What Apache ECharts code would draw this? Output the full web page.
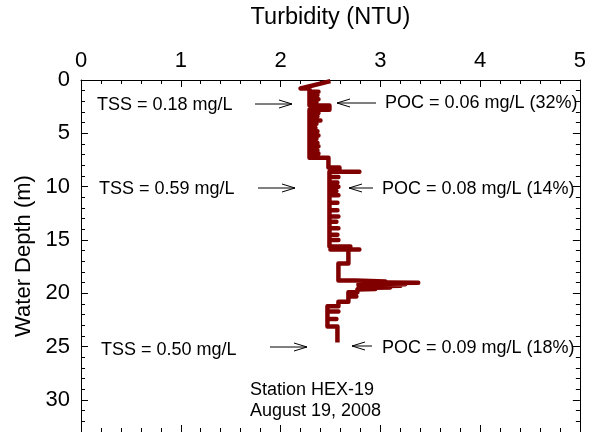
<!DOCTYPE html>
<html>
<head>
<meta charset="utf-8">
<script src="https://cdn.jsdelivr.net/npm/echarts@6/dist/echarts.min.js"></script>
<style>
  html, body { margin: 0; padding: 0; background: #fff; }
  #chart { width: 589px; height: 432px; }
</style>
</head>
<body>
<div id="chart"></div>
<script>
// CTD turbidity profile, station HEX-19 (August 19, 2008).
// Points are listed in cast order; equal depths give the horizontal steps.
const depth = [
  0.1, 0.8, 0.8,
  1.1, 1.1, 1.1,  1.4, 1.4, 1.4,  1.8, 1.8, 1.8,  2.1, 2.1, 2.1,
  2.4, 2.4, 2.8, 2.8,
  3.1, 3.1, 3.1,  3.4, 3.4, 3.4,  3.8, 3.8, 3.8,  4.1, 4.1, 4.1,
  4.5, 4.5, 4.5,  4.8, 4.8, 4.8,  5.2, 5.2, 5.2,  5.5, 5.5, 5.5,
  5.9, 5.9, 5.9,  6.2, 6.2, 6.2,  6.6, 6.6, 6.6,  6.9, 6.9, 6.9,
  7.3, 7.3, 8.2, 8.2, 8.6, 8.6, 8.6,
  9.1, 9.1, 9.1,  9.6, 9.6, 9.6,  10.0, 10.0, 10.0,  10.4, 10.4, 10.4,
  10.8, 10.8, 10.8,  11.5, 11.5, 11.5,  12.2, 12.2, 12.2,  12.8, 12.8, 12.8,
  13.3, 13.3, 13.3,  13.9, 13.9, 13.9,  14.5, 14.5, 14.5,  15.0, 15.0, 15.0,
  15.6, 15.6, 15.6,  15.9, 15.9, 15.9,
  17.2, 17.2, 18.8,
  18.8, 18.9, 18.9, 18.95, 19.0, 19.05, 19.15, 19.2, 19.3, 19.35, 19.45, 19.5, 19.6, 19.65,
  19.9, 19.9, 20.3, 20.3, 20.3, 20.8, 20.8, 21.2, 21.2,
  21.7, 21.7, 21.7,  22.4, 22.4, 22.4,
  23.1, 23.1, 24.6
];
const turbidity = [
  2.50, 2.20, 2.29,
  2.29, 2.38, 2.29,  2.29, 2.37, 2.29,  2.29, 2.38, 2.29,  2.29, 2.36, 2.29,
  2.29, 2.49, 2.49, 2.29,
  2.29, 2.38, 2.29,  2.29, 2.37, 2.29,  2.29, 2.40, 2.29,  2.29, 2.36, 2.29,
  2.29, 2.35, 2.29,  2.29, 2.37, 2.29,  2.29, 2.38, 2.29,  2.29, 2.36, 2.29,
  2.29, 2.37, 2.29,  2.29, 2.38, 2.29,  2.29, 2.37, 2.29,  2.29, 2.38, 2.29,
  2.29, 2.48, 2.48, 2.59, 2.59, 2.79, 2.49,
  2.49, 2.58, 2.49,  2.49, 2.57, 2.49,  2.49, 2.58, 2.49,  2.49, 2.56, 2.49,
  2.49, 2.58, 2.49,  2.49, 2.57, 2.49,  2.49, 2.57, 2.49,  2.49, 2.58, 2.49,
  2.49, 2.56, 2.49,  2.49, 2.58, 2.49,  2.49, 2.57, 2.49,  2.49, 2.58, 2.49,
  2.49, 2.70, 2.50,  2.50, 2.79, 2.68,
  2.68, 2.58, 2.58,
  2.75, 2.75, 3.05, 2.78, 3.38, 2.80, 3.25, 2.78, 3.20, 2.80, 3.10, 2.78, 2.95, 2.77,
  2.77, 2.68, 2.68, 2.76, 2.68, 2.68, 2.58, 2.58, 2.47,
  2.47, 2.58, 2.47,  2.47, 2.56, 2.47,
  2.47, 2.57, 2.57
];

// Sample annotations: TSS on the left, POC on the right
const tssLabels = ['TSS = 0.18 mg/L', 'TSS = 0.59 mg/L', 'TSS = 0.50 mg/L'];
const pocLabels = ['POC = 0.06 mg/L (32%)', 'POC = 0.08 mg/L (14%)', 'POC = 0.09 mg/L (18%)'];
const stationLines = ['Station HEX-19', 'August 19, 2008'];

const FONT = '"Liberation Sans", Arial, Helvetica, sans-serif';
const chart = echarts.init(document.getElementById('chart'), null, { renderer: 'canvas' });

const profile = depth.map((d, i) => [turbidity[i], d]);

const tickStyle = { color: '#000', width: 1 };
function xAxisDef(pos, showLabel) {
  return {
    type: 'value', position: pos, min: 0, max: 5, interval: 1,
    axisLine: { show: true, onZero: false, lineStyle: tickStyle },
    axisTick: { show: true, inside: true, length: 7, lineStyle: tickStyle },
    minorTick: { show: true, splitNumber: 5, length: 4, lineStyle: tickStyle },
    axisLabel: { show: showLabel, fontSize: 22, color: '#000', fontFamily: FONT, margin: 8 },
    splitLine: { show: false }
  };
}
function yAxisDef(pos, showLabel) {
  return {
    type: 'value', position: pos, inverse: true, min: 0, max: 33, interval: 5,
    axisLine: { show: true, onZero: false, lineStyle: tickStyle },
    axisTick: { show: true, inside: true, length: 7, lineStyle: tickStyle },
    minorTick: { show: true, splitNumber: 5, length: 4, lineStyle: tickStyle },
    axisLabel: { show: showLabel, fontSize: 22, color: '#000', fontFamily: FONT, margin: 11,
                 showMaxLabel: false },
    splitLine: { show: false }
  };
}

const xTop = xAxisDef('top', true);
xTop.name = 'Turbidity (NTU)';
xTop.nameLocation = 'middle';
xTop.nameGap = 50;
xTop.nameTextStyle = { fontSize: 23.5, color: '#000', fontFamily: FONT };

const yLeft = yAxisDef('left', true);
yLeft.name = 'Water Depth (m)';
yLeft.nameLocation = 'middle';
yLeft.nameGap = 45;
yLeft.nameTextStyle = { fontSize: 22, color: '#000', fontFamily: FONT };

// open-headed arrow as a group of polylines
function arrow(x1, y, x2) {
  const dir = x2 > x1 ? 1 : -1;
  const hl = 13, hw = 4;
  const ls = { stroke: '#000', lineWidth: 1, fill: null };
  return {
    type: 'group',
    children: [
      { type: 'polyline', shape: { points: [[x1, y], [x2, y]] }, style: ls },
      { type: 'polyline', shape: { points: [[x2 - dir * hl, y - hw], [x2, y], [x2 - dir * hl, y + hw]] }, style: ls }
    ]
  };
}
function label(text, x, y) {
  return {
    type: 'text', x: x, y: y,
    style: { text: text, fill: '#000', font: '18px ' + FONT, textVerticalAlign: 'middle' }
  };
}

const tssPos = [[97, 105], [99, 189], [101, 350]];
const pocPos = [[385, 103], [382, 189], [382, 348]];
const tssArrows = [[255, 104, 292], [258, 188, 295], [270, 347, 307]];
const pocArrows = [[376, 103, 337], [373, 188, 349], [372, 346, 352]];

const graphics = [];
tssLabels.forEach((t, i) => graphics.push(label(t, tssPos[i][0], tssPos[i][1])));
pocLabels.forEach((t, i) => graphics.push(label(t, pocPos[i][0], pocPos[i][1])));
tssArrows.forEach(a => graphics.push(arrow(a[0], a[1], a[2])));
pocArrows.forEach(a => graphics.push(arrow(a[0], a[1], a[2])));
stationLines.forEach((t, i) => graphics.push(label(t, 250, 390 + i * 21)));

chart.setOption({
  animation: false,
  backgroundColor: '#fff',
  grid: { left: 81, top: 80, right: 2, bottom: 0, containLabel: false },
  xAxis: [xTop, xAxisDef('bottom', false)],
  yAxis: [yLeft, yAxisDef('right', false)],
  series: [{
    type: 'line',
    xAxisIndex: 0, yAxisIndex: 0,
    data: profile,
    showSymbol: false,
    symbol: 'none',
    lineStyle: { color: '#800000', width: 4.5, cap: 'butt', join: 'round' },
    z: 3
  }],
  graphic: graphics
});
</script>
</body>
</html>
